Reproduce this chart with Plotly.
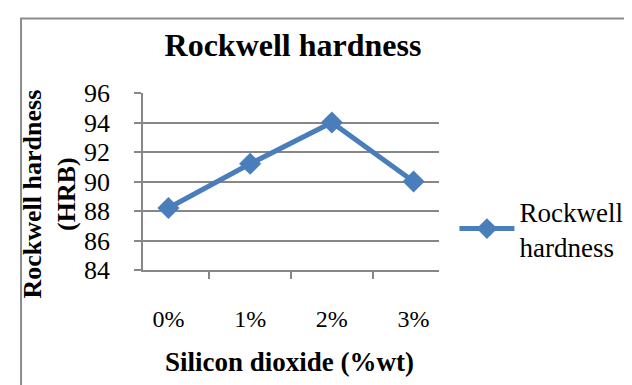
import plotly.graph_objects as go

categories = ["0%", "1%", "2%", "3%"]
hardness = [88.2, 91.2, 94.0, 90.0]
series_name = "Rockwell<br>hardness"
y_ticks = [84, 86, 88, 90, 92, 94, 96]

W, H = 632, 385
L, R, T, B = 135, 190, 85, 123
pw, ph = W - L - R, H - T - B

font = "Liberation Serif, Times New Roman, serif"
blue = "#4A7EBB"
grid = "#878787"

fig = go.Figure()
fig.add_trace(go.Scatter(
    x=categories, y=hardness, mode="lines+markers", name=series_name,
    line=dict(color=blue, width=5),
    marker=dict(symbol="diamond", size=17, color=blue),
))

fig.update_layout(
    width=W, height=H,
    margin=dict(l=L, r=R, t=T, b=B, pad=0),
    paper_bgcolor="white", plot_bgcolor="white",
    font=dict(family=font, color="black", size=24),
    title=dict(text="<b>Rockwell hardness</b>", x=285 / W, xanchor="center",
               y=1 - 37 / H, yanchor="middle", font=dict(size=32, family=font)),
    showlegend=True,
    legend=dict(x=(458 - L) / pw, xanchor="left", y=(H - B - 221) / ph, yanchor="middle",
                font=dict(size=27, family=font), bgcolor="rgba(0,0,0,0)",
                itemwidth=55, tracegroupgap=0),
    xaxis=dict(type="category", tickson="boundaries", ticks="outside", ticklen=7,
               tickcolor=grid, tickwidth=1.5, showline=True, linecolor=grid, linewidth=1.5,
               showgrid=False, ticklabelstandoff=26, tickfont=dict(size=24, family=font)),
    yaxis=dict(range=[84, 96], tickvals=y_ticks, ticks="outside", ticklen=7,
               tickcolor=grid, tickwidth=1.5, showline=True, linecolor=grid, linewidth=1.5,
               showgrid=True, gridcolor=grid, gridwidth=1.5, zeroline=False,
               ticklabelstandoff=19, tickfont=dict(size=26, family=font)),
)

fig.add_annotation(text="<b>Rockwell hardness<br>(HRB)</b>", textangle=-90,
                   xref="paper", yref="paper", x=(38 - L) / pw, y=(H - B - 186) / ph,
                   xanchor="center", yanchor="middle", showarrow=False,
                   font=dict(size=26, family=font))
fig.add_annotation(text="<b>Silicon dioxide (%wt)</b>",
                   xref="paper", yref="paper", x=(287 - L) / pw, y=(H - B - 354) / ph,
                   xanchor="center", yanchor="middle", showarrow=False,
                   font=dict(size=27, family=font))

fig.add_shape(type="rect", xref="paper", yref="paper",
              x0=(8.5 - L) / pw, x1=(660 - L) / pw, y0=(H - B - 420) / ph, y1=(H - B - 10.5) / ph,
              line=dict(color="#8c8c8c", width=2), fillcolor="rgba(0,0,0,0)", layer="below")

fig.write_html("out.html")
